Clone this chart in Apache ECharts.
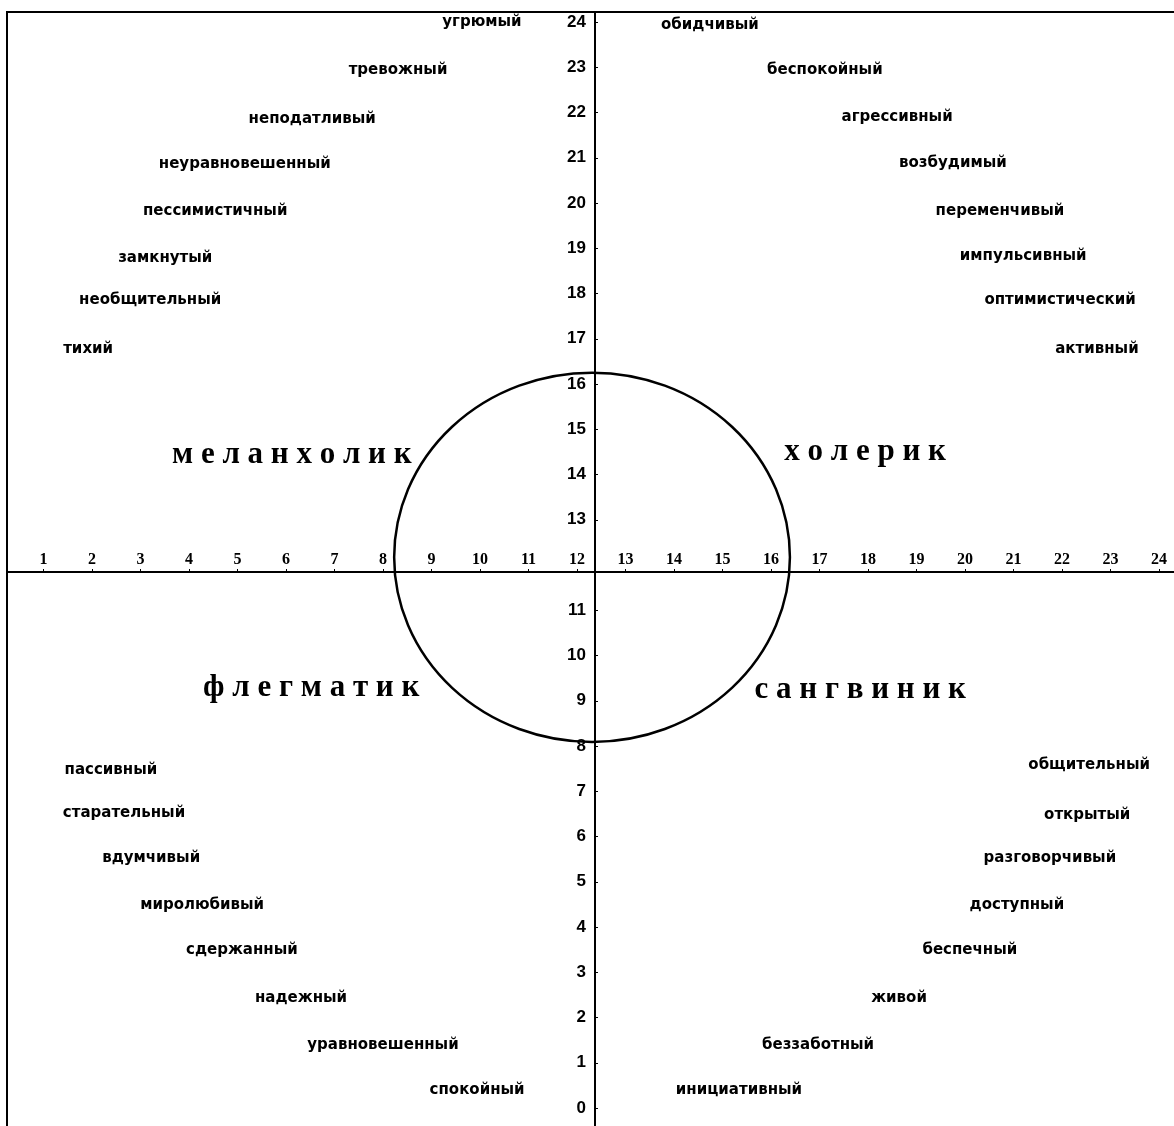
<!DOCTYPE html>
<html>
<head>
<meta charset="utf-8">
<script src="https://cdn.jsdelivr.net/npm/echarts@6/dist/echarts.min.js"></script>
<style>
  html, body { margin: 0; padding: 0; background: #fff; }
  #main { width: 1174px; height: 1126px; }
</style>
</head>
<body>
<div id="main"></div>
<script>
    var myChart = echarts.init(document.getElementById('main'));

    // подписи на осях (12 общая, стоит в ряду горизонтальной оси)
    var xTicks = [1, 2, 3, 4, 5, 6, 7, 8, 9, 10, 11, 12, 13, 14, 15, 16, 17, 18, 19, 20, 21, 22, 23, 24];
    var yTicks = [0, 1, 2, 3, 4, 5, 6, 7, 8, 9, 10, 11, 13, 14, 15, 16, 17, 18, 19, 20, 21, 22, 23, 24];

    // черты характера: [слово, x, y]
    var melancholic = [
        ['угрюмый', 10.04, 24.0],
        ['тревожный', 8.31, 22.94],
        ['неподатливый', 6.54, 21.86],
        ['неуравновешенный', 5.15, 20.86],
        ['пессимистичный', 4.54, 19.82],
        ['замкнутый', 3.51, 18.78],
        ['необщительный', 3.20, 17.86],
        ['тихий', 1.92, 16.77]
    ];
    var choleric = [
        ['обидчивый', 14.74, 23.93],
        ['беспокойный', 17.11, 22.94],
        ['агрессивный', 18.60, 21.90],
        ['возбудимый', 19.75, 20.88],
        ['переменчивый', 20.72, 19.82],
        ['импульсивный', 21.20, 18.83],
        ['оптимистический', 21.96, 17.86],
        ['активный', 22.72, 16.77]
    ];
    var phlegmatic = [
        ['пассивный', 2.39, 7.47],
        ['старательный', 2.66, 6.52],
        ['вдумчивый', 3.22, 5.52],
        ['миролюбивый', 4.27, 4.49],
        ['сдержанный', 5.09, 3.49],
        ['надежный', 6.31, 2.43],
        ['уравновешенный', 8.00, 1.39],
        ['спокойный', 9.94, 0.40]
    ];
    var sanguine = [
        ['общительный', 22.56, 7.58],
        ['открытый', 22.52, 6.48],
        ['разговорчивый', 21.75, 5.52],
        ['доступный', 21.07, 4.49],
        ['беспечный', 20.10, 3.49],
        ['живой', 18.64, 2.43],
        ['беззаботный', 16.97, 1.39],
        ['инициативный', 15.34, 0.40]
    ];

    // типы темперамента
    var types = [
        ['м е л а н х о л и к', 6.12, 14.43],
        ['х о л е р и к', 17.94, 14.50],
        ['ф л е г м а т и к', 6.52, 9.28],
        ['с а н г в и н и к', 17.84, 9.24]
    ];

    // круг: [центр x, центр y, радиус]
    var circle = [[12.31, 12.17, 4.08]];

    const words = (list, font) => {
        return {
            type: 'scatter',
            symbolSize: 0,
            silent: true,
            itemStyle: {opacity: 1, color: '#000'},
            data: list.map(d => ({name: d[0], value: [d[1], d[2]]})),
            label: Object.assign({
                show: true,
                position: 'inside',
                formatter: '{b}',
                color: '#000',
                textBorderWidth: 0,
                fontWeight: 'bold'
            }, font)
        }
    }

    var smallFont = {fontFamily: 'DejaVu Sans', fontSize: 15};
    var bigFont = {fontFamily: 'Liberation Serif', fontSize: 31};

    option = {
        animation: false,
        backgroundColor: '#fff',
        grid: {
            left: 7, top: 12, right: -3, bottom: -3,
            show: true,
            borderColor: '#000',
            borderWidth: 2,
            containLabel: false,
            outerBoundsMode: 'none'
        },
        xAxis: {
            type: 'value',
            min: 0.2474,
            max: 24.371,
            offset: -557,
            axisLine: {onZero: false, lineStyle: {color: '#000', width: 2}},
            axisTick: {show: true, inside: true, length: 3, customValues: xTicks, lineStyle: {color: '#000'}},
            axisLabel: {
                inside: true, margin: 4, customValues: xTicks,
                fontFamily: 'Liberation Serif', fontWeight: 'bold', fontSize: 16, color: '#000'
            },
            splitLine: {show: false}
        },
        yAxis: {
            type: 'value',
            min: -0.464,
            max: 24.221,
            offset: -588,
            axisLine: {onZero: false, lineStyle: {color: '#000', width: 2}},
            axisTick: {show: true, inside: true, length: 3, customValues: yTicks, lineStyle: {color: '#000'}},
            axisLabel: {
                margin: 9, customValues: yTicks,
                fontFamily: 'Liberation Sans', fontWeight: 'bold', fontSize: 17, color: '#000'
            },
            splitLine: {show: false}
        },
        series: [
            words(melancholic, smallFont),
            words(choleric, smallFont),
            words(phlegmatic, smallFont),
            words(sanguine, smallFont),
            words(types, bigFont),
            {
                type: 'custom',
                silent: true,
                data: circle,
                renderItem: function (params, api) {
                    var c = api.coord([api.value(0), api.value(1)]);
                    var e = api.coord([api.value(0) + api.value(2), api.value(1) + api.value(2)]);
                    var rx = e[0] - c[0];
                    var ry = c[1] - e[1];
                    var d = 'M ' + (c[0] - rx) + ' ' + c[1] +
                        ' A ' + rx + ' ' + ry + ' 0 1 0 ' + (c[0] + rx) + ' ' + c[1] +
                        ' A ' + rx + ' ' + ry + ' 0 1 0 ' + (c[0] - rx) + ' ' + c[1] + ' Z';
                    return {
                        type: 'path',
                        shape: {pathData: d},
                        style: {fill: 'none', stroke: '#000', lineWidth: 2.5}
                    };
                }
            }
        ]
    };

    myChart.setOption(option);
</script>
</body>
</html>
